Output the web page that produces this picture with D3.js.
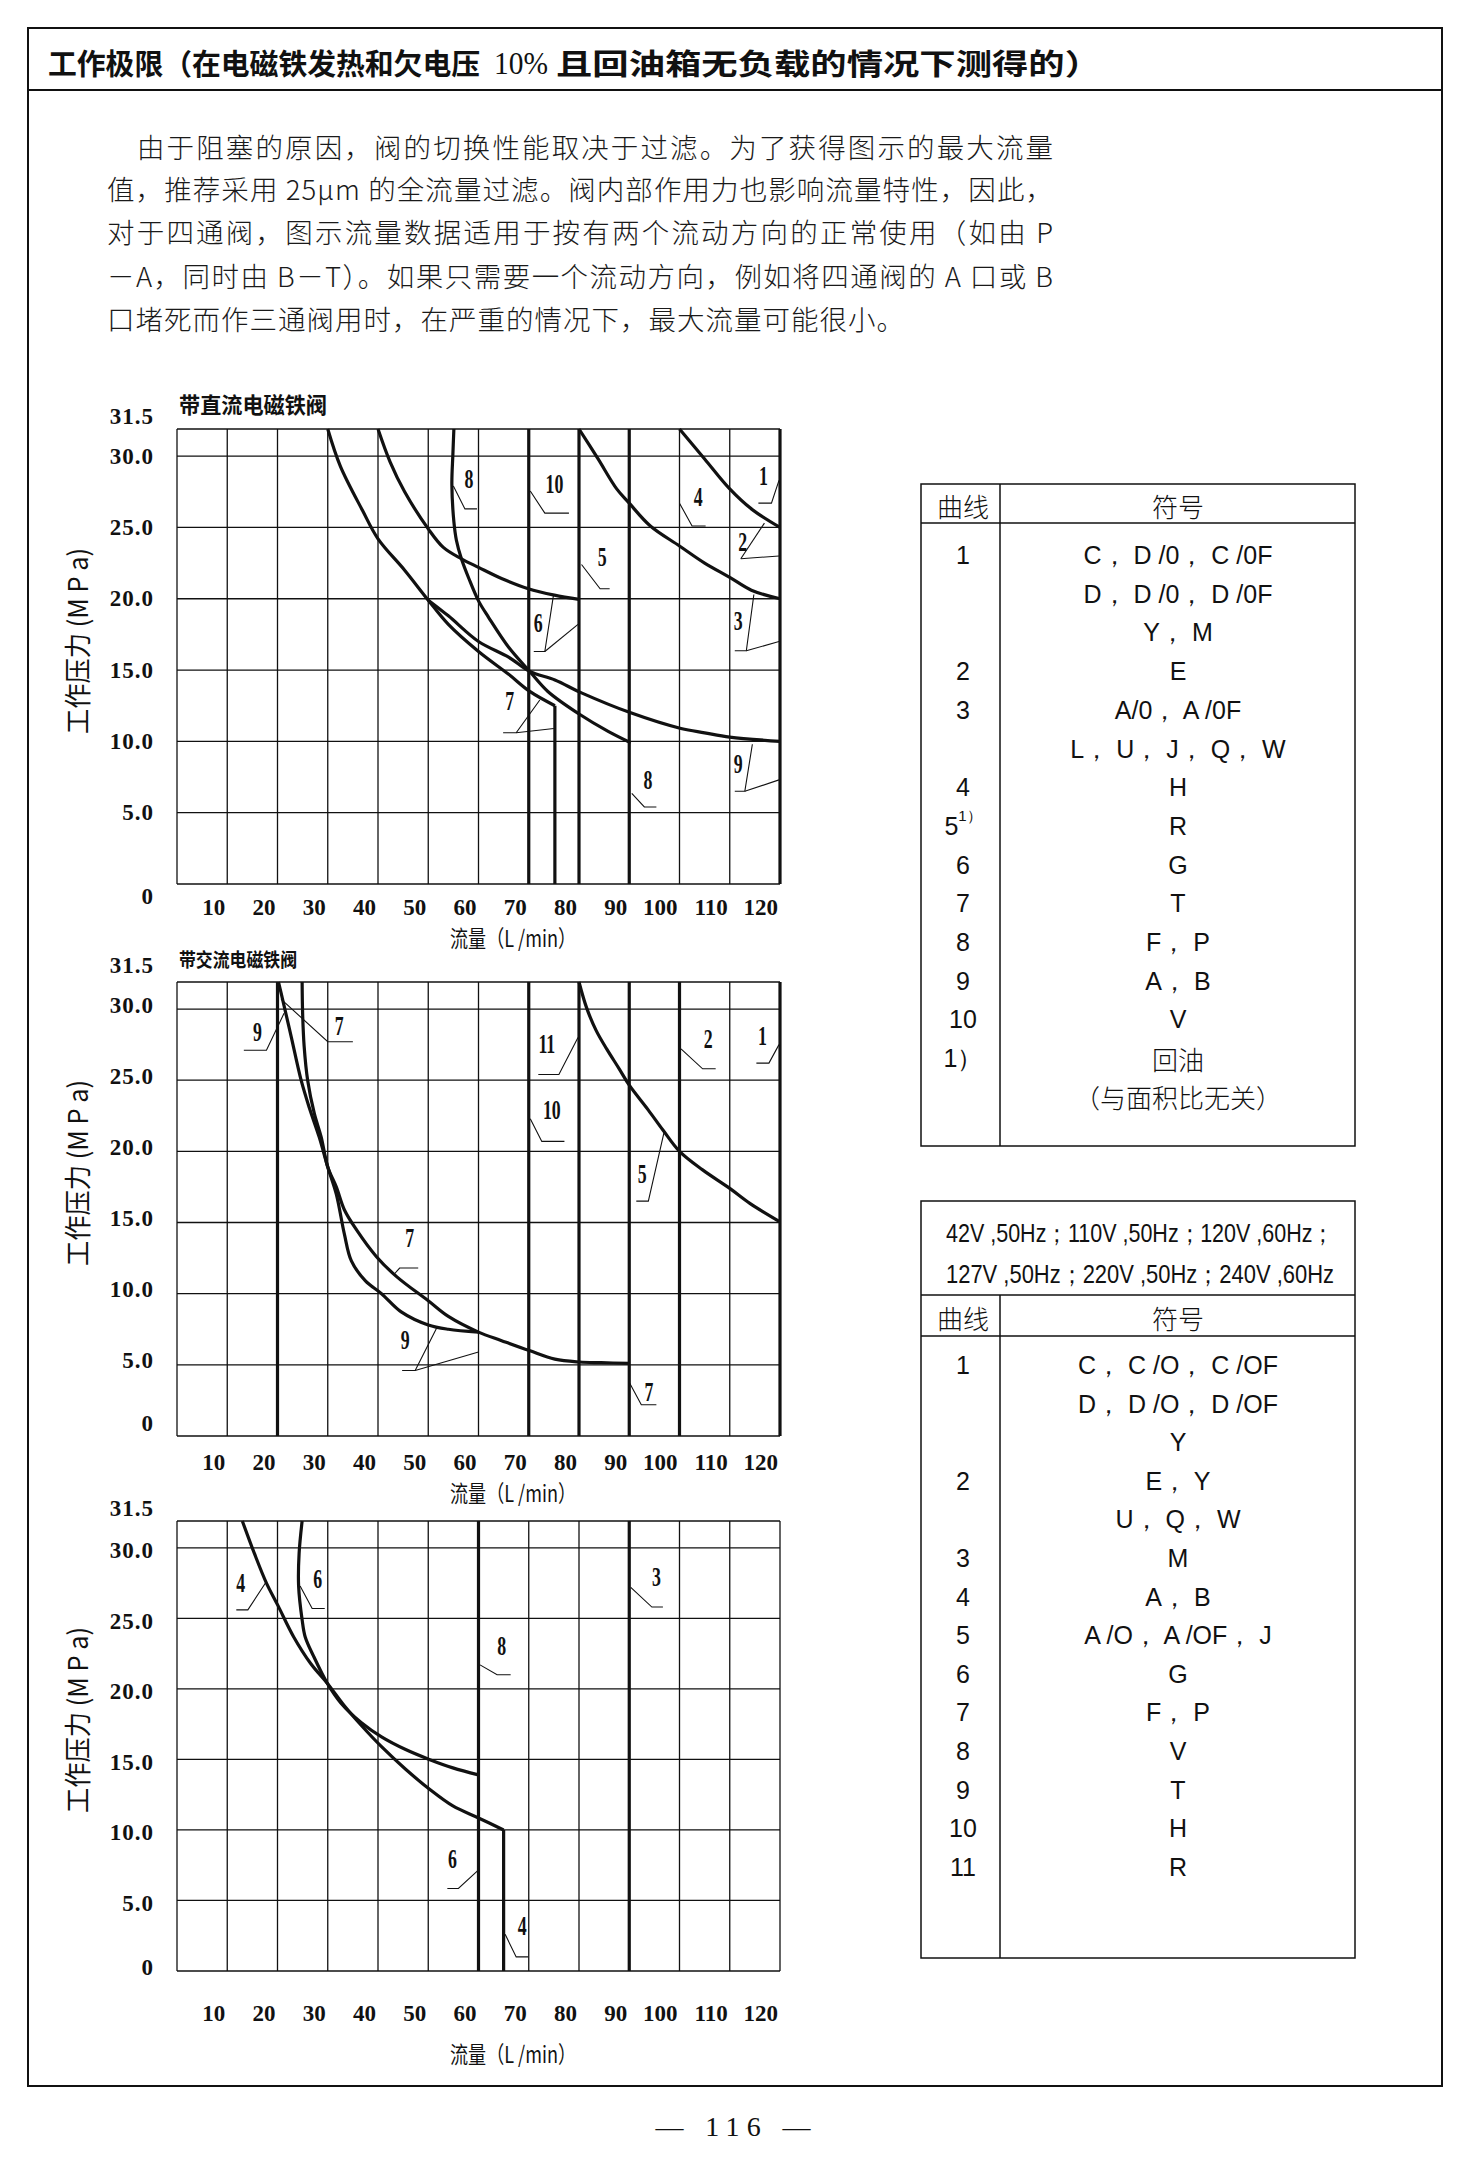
<!DOCTYPE html>
<html>
<head>
<meta charset="utf-8">
<script src="https://cdn.jsdelivr.net/npm/d3@7"></script>
<style>
  body { margin: 0; background: #fff; }
  svg { display: block; }
</style>
</head>
<body>
<svg id="page"></svg>
<script>
// ---- axes ----
const flowTicks = [10, 20, 30, 40, 50, 60, 70, 80, 90, 100, 110, 120];
const pressureTicks = [0, 5, 10, 15, 20, 25, 30, 31.5];
const pressureTickLabels = ['0', '5.0', '10.0', '15.0', '20.0', '25.0', '30.0', '31.5'];
const flowMax = 120;
const pressureMax = 31.9; // grid top sits a bit above 31.5

// ---- DC solenoid valve curves [flow L/min, pressure MPa] ----
const dcCurve2 = [[100, 31.9], [105, 29.8], [110, 27.7], [114.3, 26.3], [120, 25.0]];
const dcCurve3 = [[80, 31.9], [83.8, 29.8], [87.5, 27.7], [90, 26.7], [94.2, 25.1], [100, 23.7], [105, 22.5], [110, 21.5], [114.3, 20.6], [120, 20.0]];
const dcCurve6 = [[40, 31.9], [42.4, 29.6], [45.3, 27.5], [50, 24.9], [53, 23.6], [56.6, 22.8], [60, 22.2], [64.7, 21.4], [69.9, 20.7], [75.1, 20.25], [80, 19.95]];
const dcCurve7 = [[30, 31.9], [32.5, 29.3], [36.9, 26.2], [40, 24.2], [45.3, 22.0], [50, 19.9], [54, 18.2], [60, 16.3], [66, 14.7], [70.2, 13.5], [75.2, 12.5]];
const dcCurve8 = [[55.1, 31.9], [54.9, 30.1], [54.7, 28.0], [55.1, 25.4], [55.6, 24.1], [56.6, 22.8], [58.1, 21.4], [60, 19.85], [62, 18.7], [66, 16.6], [70.2, 14.9], [73.8, 13.5], [80.1, 11.9], [85.8, 10.7], [90.3, 9.9]];
const dcCurve9 = [[50, 19.9], [54, 18.8], [60, 17.0], [66, 15.9], [70.2, 14.9], [75.2, 14.3], [80.5, 13.4], [90.3, 12.0], [100.3, 10.9], [105, 10.6], [110, 10.3], [120, 10.0]];
// vertical limits: [flow, from, to]
const dcVerticals = [[70, 0, 31.9], [80, 0, 31.9], [90, 0, 31.9], [120, 0, 31.9], [75.2, 0, 12.5]];
// curve labels: [text, flow, pressure, leader polylines]
const dcLabels = [
  ['8', 58.1, 28.4, [[[59.7, 26.3], [57.3, 26.3], [55.0, 27.9]]]],
  ['10', 75.1, 28.0, [[[78.0, 26.0], [73.2, 26.0], [70.3, 27.55]]]],
  ['4', 103.7, 27.1, [[[105.2, 25.1], [102.5, 25.1], [100, 26.7]]]],
  ['1', 116.7, 28.6, [[[115.7, 26.7], [118.3, 26.7], [119.8, 28.3]]]],
  ['2', 112.6, 24.0, [[[112.2, 22.8], [116.9, 25.3]], [[112.2, 22.8], [119.8, 23.0]]]],
  ['5', 84.6, 22.9, [[[86.1, 20.7], [84.2, 20.7], [80.5, 22.4]]]],
  ['6', 71.9, 18.3, [[[71.0, 16.3], [73.2, 16.3], [74.9, 20.2]], [[73.2, 16.3], [79.8, 18.2]]]],
  ['3', 111.7, 18.4, [[[111.0, 16.35], [113.3, 16.35], [114.8, 20.3]], [[113.3, 16.35], [119.8, 17.0]]]],
  ['7', 66.2, 12.8, [[[64.9, 10.6], [67.5, 10.6], [72.2, 12.9]], [[67.5, 10.6], [75.0, 10.9]]]],
  ['9', 111.7, 8.4, [[[111.0, 6.5], [113.0, 6.5], [114.5, 9.8]], [[113.0, 6.5], [119.8, 7.3]]]],
  ['8', 93.7, 7.3, [[[90.5, 6.35], [93.0, 5.4], [95.4, 5.4]]]]
];

// ---- AC solenoid valve curves ----
const acCurve5 = [[80, 31.9], [81.5, 30.1], [83.4, 28.5], [85.5, 27.2], [88, 25.8], [90, 24.65], [93.8, 22.9], [96.7, 21.5], [100, 20.0], [104.6, 18.7], [110, 17.4], [114, 16.35], [120, 15.05]];
const acCurve7 = [[24.9, 31.9], [25, 29.7], [25.3, 27.4], [26, 25], [27.3, 22.7], [28.7, 21], [30, 18.9], [31.7, 17.5], [33.3, 15.9], [35.7, 14.5], [39.7, 12.6], [43.7, 11.2], [50, 9.5], [54, 8.4], [60, 7.3], [64.6, 6.7], [70.1, 6.0], [75.2, 5.4], [80.1, 5.2], [84.4, 5.15], [90, 5.1]];
const acCurve9 = [[20.2, 31.9], [21, 30.7], [22.7, 28.1], [24.7, 25.0], [26.3, 23.1], [28.3, 21.0], [30, 18.9], [31.7, 17.0], [33.3, 14.2], [34.7, 12.3], [37.5, 10.9], [40.7, 10.0], [44.7, 8.7], [50, 7.8], [54, 7.5], [60, 7.3]];
const acVerticals = [[20, 0, 31.9], [70, 0, 31.9], [80, 0, 31.9], [90, 0, 31.9], [100, 0, 31.9], [120, 0, 31.9]];
const acLabels = [
  ['9', 16.0, 28.4, [[[13.3, 27.1], [17.8, 27.1], [21.3, 29.7]]]],
  ['7', 32.3, 28.8, [[[35.0, 27.7], [30.0, 27.7], [20.7, 30.7]]]],
  ['11', 73.6, 27.5, [[[71.9, 25.4], [76.0, 25.4], [79.8, 28.0]]]],
  ['2', 105.7, 27.9, [[[107.2, 25.8], [104.6, 25.8], [100.3, 27.2]]]],
  ['1', 116.5, 28.1, [[[115.3, 26.2], [117.8, 26.2], [119.8, 27.5]]]],
  ['10', 74.6, 22.9, [[[77.1, 20.7], [72.6, 20.7], [70.3, 22.3]]]],
  ['5', 92.6, 18.4, [[[91.4, 16.5], [93.8, 16.5], [96.9, 21.3]]]],
  ['7', 46.3, 13.9, [[[48.0, 11.8], [44.3, 11.8], [43.3, 11.4]]]],
  ['9', 45.4, 6.7, [[[44.8, 4.6], [47.4, 4.6], [51.7, 7.6]], [[47.4, 4.6], [60.0, 5.9]]]],
  ['7', 93.9, 3.1, [[[90.1, 3.7], [92.4, 2.2], [95.4, 2.2]]]]
];

// ---- third chart (AC, other supply voltages) ----
const ac2Curve4 = [[13.0, 31.9], [15.4, 29.6], [17.8, 27.5], [20.1, 25.9], [23.2, 23.7], [26.6, 21.8], [29.9, 20.4], [33.3, 18.8], [36.7, 17.4], [40.7, 15.9], [45.5, 14.3], [50.2, 12.9], [54.9, 11.7], [60, 10.85], [65, 10.0]];
const ac2Curve6 = [[24.9, 31.9], [24.3, 29.6], [24.2, 27.3], [24.9, 24.9], [25.5, 23.7], [27.2, 22.3], [29.9, 20.4], [32.6, 19.0], [36.7, 17.6], [40.7, 16.6], [45.5, 15.7], [50.2, 15.0], [54.9, 14.4], [60, 13.9]];
const ac2Verticals = [[60, 0, 31.9], [90, 0, 31.9], [65, 0, 10.0]];
const ac2Labels = [
  ['4', 12.7, 27.5, [[[11.8, 25.6], [14.1, 25.6], [17.6, 27.5]]]],
  ['6', 28.0, 27.8, [[[29.4, 25.7], [26.9, 25.7], [24.5, 27.3]]]],
  ['8', 64.6, 23.0, [[[66.4, 21.0], [63.7, 21.0], [60.3, 21.7]]]],
  ['3', 95.4, 27.9, [[[96.7, 25.8], [94.5, 25.8], [90.3, 27.2]]]],
  ['6', 54.8, 7.9, [[[53.8, 5.85], [56.0, 5.85], [59.8, 7.1]]]],
  ['4', 68.7, 3.15, [[[69.9, 1.0], [67.5, 1.0], [65.3, 2.6]]]]
];

// ---- tables ----
const table1Curve = ['1', '', '', '2', '3', '', '4', '5^1）', '6', '7', '8', '9', '10', '1）', ''];
const table1Code = ['C， D /0， C /0F', 'D， D /0， D /0F', 'Y， M', 'E', 'A/0， A /0F', 'L， U， J， Q， W', 'H', 'R', 'G', 'T', 'F， P', 'A， B', 'V', '回油', '（与面积比无关）'];
const table2Supply = ['42V ,50Hz；110V ,50Hz；120V ,60Hz；', '127V ,50Hz；220V ,50Hz；240V ,60Hz'];
const table2Curve = ['1', '', '', '2', '', '3', '4', '5', '6', '7', '8', '9', '10', '11'];
const table2Code = ['C， C /O， C /OF', 'D， D /O， D /OF', 'Y', 'E， Y', 'U， Q， W', 'M', 'A， B', 'A /O， A /OF， J', 'G', 'F， P', 'V', 'T', 'H', 'R'];

const pageTitleA = '工作极限（在电磁铁发热和欠电压';
const pageTitleB = '10%';
const pageTitleC = '且回油箱无负载的情况下测得的）';
const introLines = [
  '由于阻塞的原因，阀的切换性能取决于过滤。为了获得图示的最大流量',
  '值，推荐采用 25μm 的全流量过滤。阀内部作用力也影响流量特性，因此，',
  '对于四通阀，图示流量数据适用于按有两个流动方向的正常使用（如由 P',
  '－A，同时由 B－T）。如果只需要一个流动方向，例如将四通阀的 A 口或 B',
  '口堵死而作三通阀用时，在严重的情况下，最大流量可能很小。'
];

// ---------------------------------------------------------------
const W = 1472, H = 2162;
const CJK = '"Noto Sans CJK SC", sans-serif';
const SERIF = '"Liberation Serif", "DejaVu Serif", serif';
const SANS = '"Liberation Sans", Arial, sans-serif';
const INK = '#111';

const svg = d3.select('#page').attr('width', W).attr('height', H);
svg.append('rect').attr('width', W).attr('height', H).attr('fill', '#fff');

// page frame and header
svg.append('rect').attr('x', 28).attr('y', 28).attr('width', 1414).attr('height', 2058)
  .attr('fill', 'none').attr('stroke', INK).attr('stroke-width', 2);
svg.append('line').attr('x1', 28).attr('x2', 1442).attr('y1', 90).attr('y2', 90)
  .attr('stroke', INK).attr('stroke-width', 2);

// title in three pieces so the "10%" can use the lighter serif face
svg.append('text').attr('x', 48).attr('y', 62).attr('dominant-baseline', 'central')
  .attr('font-family', CJK).attr('font-weight', 700).attr('font-size', 29)
  .attr('textLength', 432).attr('lengthAdjust', 'spacingAndGlyphs').attr('fill', INK).text(pageTitleA);
svg.append('text').attr('x', 494).attr('y', 63).attr('dominant-baseline', 'central')
  .attr('font-family', SERIF).attr('font-size', 31)
  .attr('textLength', 54).attr('lengthAdjust', 'spacingAndGlyphs').attr('fill', INK).text(pageTitleB);
svg.append('text').attr('x', 556).attr('y', 62).attr('dominant-baseline', 'central')
  .attr('font-family', CJK).attr('font-weight', 700).attr('font-size', 29)
  .attr('textLength', 545).attr('lengthAdjust', 'spacingAndGlyphs').attr('fill', INK).text(pageTitleC);

// intro paragraph
const introX = [137, 107, 107, 107, 107];
const introLen = [916, 946, 946, 946, 797];
const introY = [146, 188, 231, 275, 318];
introLines.forEach((t, i) => {
  svg.append('text').attr('x', introX[i]).attr('y', introY[i]).attr('dominant-baseline', 'central')
    .attr('font-family', CJK).attr('font-weight', 300).attr('font-size', 27.5)
    .attr('textLength', introLen[i]).attr('lengthAdjust', 'spacing')
    .attr('fill', '#1a1a1a').text(t);
});

// charts
const charts = [
  { top: 429, bottom: 884, title: '带直流电磁铁阀', titleY: 403, titleSize: 22, titleLen: 148,
    curves: [dcCurve2, dcCurve3, dcCurve6, dcCurve7, dcCurve8, dcCurve9],
    verticals: dcVerticals, labels: dcLabels,
    zeroDy: 12, topDy: -18, labelDy: 0, tickGap: 23, axisTitleGap: 53, yTitleY: 641 },
  { top: 982, bottom: 1436, title: '带交流电磁铁阀', titleY: 958, titleSize: 19, titleLen: 118,
    curves: [acCurve5, acCurve7, acCurve9],
    verticals: acVerticals, labels: acLabels,
    zeroDy: -13, topDy: -22, labelDy: -4, tickGap: 26, axisTitleGap: 56, yTitleY: 1173 },
  { top: 1521, bottom: 1971, title: null,
    curves: [ac2Curve4, ac2Curve6],
    verticals: ac2Verticals, labels: ac2Labels,
    zeroDy: -4, topDy: -18, labelDy: 3, tickGap: 42, axisTitleGap: 82, yTitleY: 1720 }
];
const plotLeft = 177, plotRight = 780;

charts.forEach(c => {
  const x = d3.scaleLinear().domain([0, flowMax]).range([plotLeft, plotRight]);
  const y = d3.scaleLinear().domain([0, pressureMax]).range([c.bottom, c.top]);
  const g = svg.append('g');

  // grid
  const grid = g.append('g').attr('stroke', INK).attr('stroke-width', 1.3);
  d3.range(0, flowMax + 1, 10).forEach(v => {
    grid.append('line').attr('x1', x(v)).attr('x2', x(v)).attr('y1', c.top).attr('y2', c.bottom);
  });
  [0, 5, 10, 15, 20, 25, 30, pressureMax].forEach(v => {
    grid.append('line').attr('x1', plotLeft).attr('x2', plotRight).attr('y1', y(v)).attr('y2', y(v));
  });

  // y tick labels
  pressureTicks.forEach((v, i) => {
    let dy = c.labelDy;
    if (v === 0) dy = c.zeroDy;
    if (v === 31.5) dy = c.topDy;
    g.append('text').attr('x', plotLeft - 23).attr('y', y(v) + dy)
      .attr('text-anchor', 'end').attr('dominant-baseline', 'central')
      .attr('font-family', SERIF).attr('font-weight', 700).attr('font-size', 23)
      .attr('letter-spacing', 1).attr('fill', INK).text(pressureTickLabels[i]);
  });
  // x tick labels
  flowTicks.forEach(v => {
    g.append('text').attr('x', x(v) - 2).attr('y', c.bottom + c.tickGap)
      .attr('text-anchor', 'end').attr('dominant-baseline', 'central')
      .attr('font-family', SERIF).attr('font-weight', 700).attr('font-size', 23)
      .attr('fill', INK).text(v);
  });

  // axis titles
  g.append('text').attr('x', 513).attr('y', c.bottom + c.axisTitleGap)
    .attr('text-anchor', 'middle').attr('dominant-baseline', 'central')
    .attr('font-family', CJK).attr('font-size', 23).attr('fill', INK)
    .attr('textLength', 126).attr('lengthAdjust', 'spacingAndGlyphs')
    .text('流量（L /min）');

  g.append('text').attr('transform', `translate(76,${c.yTitleY}) rotate(-90)`)
    .attr('text-anchor', 'middle').attr('dominant-baseline', 'central')
    .attr('font-family', CJK).attr('font-size', 27).attr('fill', INK)
    .attr('textLength', 186).attr('lengthAdjust', 'spacingAndGlyphs')
    .text('工作压力 (M P a)');

  if (c.title) {
    g.append('text').attr('x', plotLeft + 2).attr('y', c.titleY).attr('dominant-baseline', 'central')
      .attr('font-family', CJK).attr('font-weight', 700).attr('font-size', c.titleSize)
      .attr('textLength', c.titleLen).attr('lengthAdjust', 'spacingAndGlyphs')
      .attr('fill', INK).text(c.title);
  }

  // curves
  const curveLine = d3.line().x(d => x(d[0])).y(d => y(d[1])).curve(d3.curveCatmullRom.alpha(0.5));
  g.append('g').selectAll('path').data(c.curves).join('path')
    .attr('d', curveLine).attr('fill', 'none').attr('stroke', INK)
    .attr('stroke-width', 3.2).attr('stroke-linejoin', 'round');

  g.append('g').selectAll('line').data(c.verticals).join('line')
    .attr('x1', d => x(d[0])).attr('x2', d => x(d[0]))
    .attr('y1', d => y(d[1])).attr('y2', d => y(d[2]))
    .attr('stroke', INK).attr('stroke-width', 3.2);

  // curve number labels with leader lines
  const leader = d3.line().x(d => x(d[0])).y(d => y(d[1]));
  c.labels.forEach(([t, fx, fy, leaders]) => {
    leaders.forEach(pts => {
      g.append('path').attr('d', leader(pts)).attr('fill', 'none')
        .attr('stroke', INK).attr('stroke-width', 1.1);
    });
    g.append('g').attr('transform', `translate(${x(fx)},${y(fy)}) scale(0.66,1)`)
      .append('text').attr('text-anchor', 'middle').attr('dominant-baseline', 'central')
      .attr('font-family', SERIF).attr('font-weight', 700).attr('font-size', 27)
      .attr('fill', INK).text(t);
  });
});

// tables
function cellText(sel, x, y, t) {
  const hasCJK = /[\u4e00-\u9fff]/.test(t.replace(/[，；]/g, ''));
  const txt = sel.append('text').attr('x', x).attr('y', y)
    .attr('text-anchor', 'middle').attr('dominant-baseline', 'central')
    .attr('font-family', hasCJK ? CJK : SANS).attr('font-weight', hasCJK ? 300 : 400)
    .attr('font-size', hasCJK ? 26 : 25).attr('fill', INK);
  if (t.includes('^')) {
    const [base, sup] = t.split('^');
    txt.append('tspan').text(base);
    txt.append('tspan').attr('font-size', 15).attr('dy', -11).text(sup);
  } else {
    txt.text(t);
  }
  return txt;
}

function drawTable(o) {
  const g = svg.append('g');
  g.append('rect').attr('x', o.left).attr('y', o.top).attr('width', o.right - o.left)
    .attr('height', o.bottom - o.top).attr('fill', 'none').attr('stroke', INK).attr('stroke-width', 1.5);
  o.hlines.forEach(v => g.append('line').attr('x1', o.left).attr('x2', o.right)
    .attr('y1', v).attr('y2', v).attr('stroke', INK).attr('stroke-width', 1.5));
  g.append('line').attr('x1', o.divider).attr('x2', o.divider).attr('y1', o.dividerTop).attr('y2', o.bottom)
    .attr('stroke', INK).attr('stroke-width', 1.5);
  cellText(g, 963, o.headY, '曲线');
  cellText(g, 1178, o.headY, '符号');
  o.curve.forEach((t, i) => {
    const yy = o.rowY + i * o.rowStep;
    if (t) cellText(g, 963, yy, t);
    cellText(g, 1178, yy, o.code[i]);
  });
  return g;
}

drawTable({ left: 921, right: 1355, top: 484, bottom: 1146, hlines: [523], divider: 1000, dividerTop: 484,
  headY: 505, rowY: 555, rowStep: 38.7, curve: table1Curve, code: table1Code });

const t2 = drawTable({ left: 921, right: 1355, top: 1201, bottom: 1958, hlines: [1295, 1336], divider: 1000,
  dividerTop: 1295, headY: 1317, rowY: 1365, rowStep: 38.6, curve: table2Curve, code: table2Code });
table2Supply.forEach((t, i) => {
  t2.append('text').attr('x', 1140).attr('y', 1233 + i * 41)
    .attr('text-anchor', 'middle').attr('dominant-baseline', 'central')
    .attr('font-family', SANS).attr('font-size', 25).attr('fill', INK)
    .attr('textLength', 388).attr('lengthAdjust', 'spacingAndGlyphs').text(t);
});

// page number
svg.append('text').attr('x', 733).attr('y', 2126).attr('text-anchor', 'middle')
  .attr('dominant-baseline', 'central').attr('font-family', SERIF).attr('font-size', 28)
  .attr('textLength', 155).attr('lengthAdjust', 'spacing').attr('fill', INK).text('— 116 —');
</script>
</body>
</html>
